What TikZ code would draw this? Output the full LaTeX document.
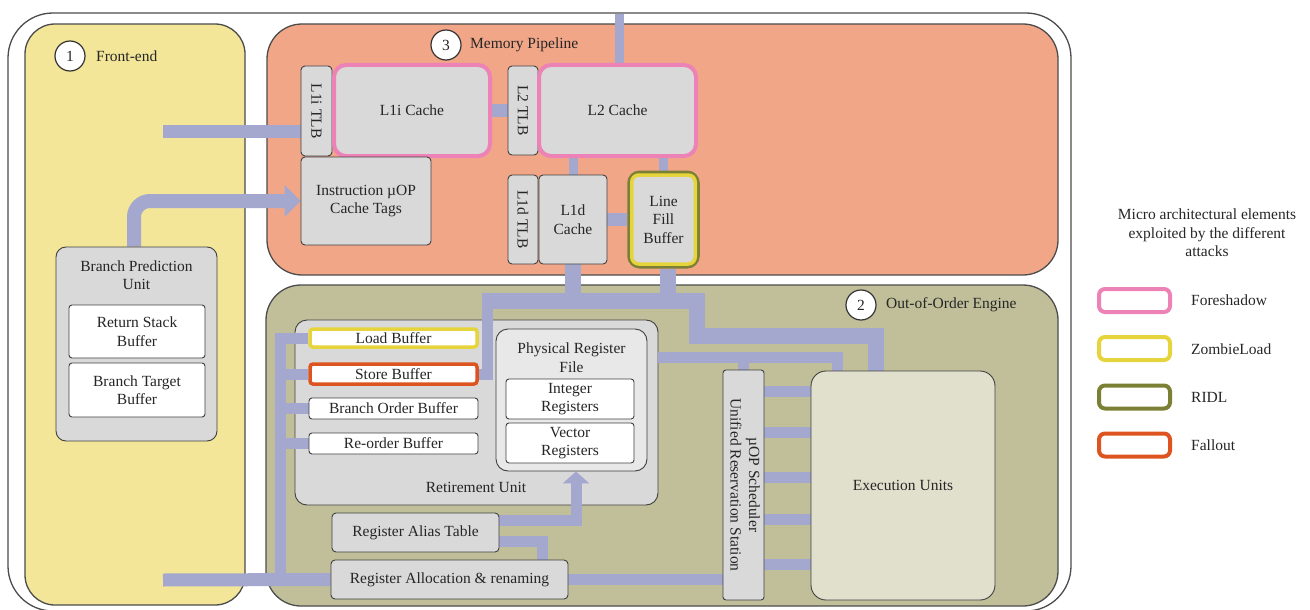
\documentclass[tikz,border=0pt]{standalone}
\usepackage{fontspec}
\setmainfont{Liberation Serif}
\usepackage{graphicx}
\usetikzlibrary{arrows.meta,calc}
\definecolor{busc}{HTML}{A4A8CE}
\definecolor{frontc}{HTML}{F3E699}
\definecolor{memc}{HTML}{F2A688}
\definecolor{oooc}{HTML}{C0BF9A}
\definecolor{prfc}{HTML}{E8E8E8}
\definecolor{euc}{HTML}{E1E0CD}
\definecolor{fore}{HTML}{EC82B6}
\definecolor{zomb}{HTML}{E6D43C}
\definecolor{ridl}{HTML}{7B8035}
\definecolor{fall}{HTML}{DD5420}
\pgfdeclarelayer{back}
\pgfdeclarelayer{mid}
\pgfsetlayers{back,mid,main}
\begin{document}
\begin{tikzpicture}[x=1pt,y=-1pt,
  font=\fontsize{15.5}{18.5}\selectfont,
  container/.style={draw=black!70, line width=1.3, rounded corners=30},
  box/.style={draw=black!75, fill=gray!30, line width=0.9, rounded corners=4, inner sep=0, text=black!85, align=center},
  wbox/.style={box, fill=white, rounded corners=3},
  txt/.style={inner sep=0, align=center, text=black!85},
  bar/.style={draw=busc, line width=11},
  fat/.style={draw=busc, line width=13},
  bus/.style={draw=busc, line width=16},
  thinbar/.style={draw=busc, line width=9},
  circ/.style={circle, draw=black!80, fill=white, line width=1.2, minimum size=30, inner sep=0, text=black!85},
  lg/.style={draw, line width=4, rounded corners=6, fill=white, minimum width=71, minimum height=23, inner sep=0}
]
\useasboundingbox (0,0) rectangle (1310,610);

\begin{pgfonlayer}{back}
\draw[container, rounded corners=45, fill=white] (8,13) rectangle (1071,611);
\draw[container, fill=frontc] (25,24) rectangle (245,605);
\draw[container, rounded corners=35, fill=memc] (267,24) rectangle (1058,275);
\draw[container, rounded corners=35, fill=oooc] (266,285) rectangle (1058,606);
\node[box, rounded corners=12, minimum width=363, minimum height=185] (ret) at (476.5,412.5) {};
\end{pgfonlayer}

% section labels
\node[circ] (n1) at (70,56) {1};
\node[txt, anchor=west] (t1) at (96,56) {Front-end};
\node[circ] (n3) at (446,45) {3};
\node[txt, anchor=west] (t3) at (470,45) {Memory Pipeline};
\node[circ] (n2) at (861,305) {2};
\node[txt, anchor=west] (t2) at (886,305) {Out-of-Order Engine};

% memory pipeline
\node[box, minimum width=31, minimum height=90] (l1itlb) at (316.5,111) {\rotatebox{-90}{L1i TLB}};
\node[box, draw=fore, line width=4, rounded corners=12, minimum width=156, minimum height=91] (l1i) at (412,110.5) {L1i Cache};
\node[box, minimum width=30, minimum height=89] (l2tlb) at (523,110.5) {\rotatebox{-90}{L2 TLB}};
\node[box, draw=fore, line width=4, rounded corners=12, minimum width=157, minimum height=91] (l2) at (617.5,110.5) {L2 Cache};
\node[box, minimum width=130, minimum height=88] (uop) at (366,201) {Instruction µOP\\Cache Tags};
\node[box, minimum width=30, minimum height=89] (l1dtlb) at (523,219.5) {\rotatebox{-90}{L1d TLB}};
\node[box, minimum width=68, minimum height=89] (l1d) at (573,219.5) {L1d\\Cache};
\node[box, draw=ridl, line width=5, rounded corners=10, minimum width=67.5, minimum height=93] (lfb) at (663.5,219.5) {Line\\Fill\\Buffer};
\draw[zomb, line width=3.5, rounded corners=7] ([shift={(4.5,4.5)}]lfb.north west) rectangle ([shift={(-4.5,-4.5)}]lfb.south east);

% front-end
\node[box, rounded corners=10, minimum width=161, minimum height=194] (bpu) at (136.5,344) {};
\node[txt] (bput) at (136.5,275) {Branch Prediction\\Unit};
\node[wbox, minimum width=136, minimum height=53] (rsb) at (137,331.5) {Return Stack\\Buffer};
\node[wbox, minimum width=136, minimum height=54] (btb) at (137,390) {Branch Target\\Buffer};

% out-of-order engine
\node[txt] (rett) at (476,487) {Retirement Unit};
\node[wbox, draw=zomb, line width=3.5, minimum width=167, minimum height=18] (ldb) at (393.5,338) {Load Buffer};
\node[wbox, draw=fall, line width=3.5, minimum width=167, minimum height=20] (stb) at (393.5,374) {Store Buffer};
\node[wbox, minimum width=169, minimum height=21] (bob) at (393.5,408.5) {Branch Order Buffer};
\node[wbox, minimum width=169, minimum height=21] (rob) at (393.5,443.5) {Re-order Buffer};
\node[box, fill=prfc, rounded corners=12, minimum width=151, minimum height=142] (prf) at (571.5,400) {};
\node[txt] (prft) at (571.5,357.5) {Physical Register\\File};
\node[wbox, minimum width=128, minimum height=40] (intr) at (570,399) {Integer\\Registers};
\node[wbox, minimum width=128, minimum height=40] (vecr) at (570,443) {Vector\\Registers};
\node[box, minimum width=167, minimum height=39] (rat) at (415.5,532.5) {Register Alias Table};
\node[box, minimum width=237, minimum height=39] (ra) at (449.5,579.5) {Register Allocation \& renaming};
\node[box, rounded corners=3, minimum width=41, minimum height=230] (sch) at (743.5,485) {\rotatebox{-90}{\begin{tabular}{@{}c@{}}µOP Scheduler\\Unified Reservation Station\end{tabular}}};
\node[box, fill=euc, rounded corners=15, minimum width=184, minimum height=229] (eu) at (903,485.5) {Execution Units};

% legend
\node[txt] (lgt) at (1207,233) {Micro architectural elements\\exploited by the different\\attacks};
\node[lg, draw=fore] (lg1) at (1134.5,300.5) {};
\node[txt, anchor=west] (lgl1) at (1191,300) {Foreshadow};
\node[lg, draw=zomb] (lg2) at (1134.5,348.5) {};
\node[txt, anchor=west] (lgl2) at (1191,349) {ZombieLoad};
\node[lg, draw=ridl] (lg3) at (1134.5,397) {};
\node[txt, anchor=west] (lgl3) at (1191,397) {RIDL};
\node[lg, draw=fall] (lg4) at (1134.5,445) {};
\node[txt, anchor=west] (lgl4) at (1191,445) {Fallout};

% connectors
\begin{pgfonlayer}{mid}
\coordinate (inA) at (163,131);
\coordinate (inB) at (163,580);
\draw[fat] (inA) -- (inA -| l1itlb.west);
\draw[fat] (inB) -- (ra.west);
\draw[draw=busc, line width=14, rounded corners=16, -{Triangle[length=16pt,width=31pt]}] ([xshift=-2.5pt]bpu.north) |- (uop.west);

\coordinate (top) at (619,14);
\draw[thinbar] (top) -- (top |- l2.north);
\draw[fat] (l1i.east) -- (l2tlb.west);
\draw[thinbar] (l2.south -| l1d.north) -- (l1d.north);
\draw[thinbar] (l2.south -| lfb.north) -- (lfb.north);
\draw[fat] (l1d.east) -- (lfb.west);

\coordinate (jL) at (482,301);
\coordinate (jR) at (697,301);
\coordinate (c1) at (697,336);
\coordinate (c2) at (876,336);
\draw[bus] (l1d.south) -- (l1d.south |- jR);
\draw[bus] ([xshift=4pt]lfb.south) -- ([xshift=4pt]lfb.south |- jR);
\draw[bus] (jL) -- (jR) -- (c1) -- (c2) -- (c2 |- eu.north);
\draw[bar] ([xshift=5pt]jL) |- (stb.east);

\coordinate (busL) at (280,580);
\draw[bar] (ldb.west) -| (busL);
\foreach \n in {stb,bob,rob} \draw[bar] (\n.west) -- (\n.west -| busL);

\coordinate (p1) at (837,357);
\draw[bar] (ret.east |- p1) -- (p1) -- (p1 |- eu.north);
\draw[bar] (sch.north) -- (sch.north |- p1);

\draw[bar, -{Triangle[length=12pt,width=26pt]}] (rat.east |- 0,520) -| ([xshift=4.5pt]prf.south);
\draw[bar] (rat.east |- 0,541) -| (ra.north -| 542,0);
\draw[bar] (ra.east) -- (ra.east -| sch.west);
\foreach \y in {391,432,477,519,564} \draw[bar] (sch.east |- 0,\y) -- (eu.west |- 0,\y);
\end{pgfonlayer}
\end{tikzpicture}
\end{document}
